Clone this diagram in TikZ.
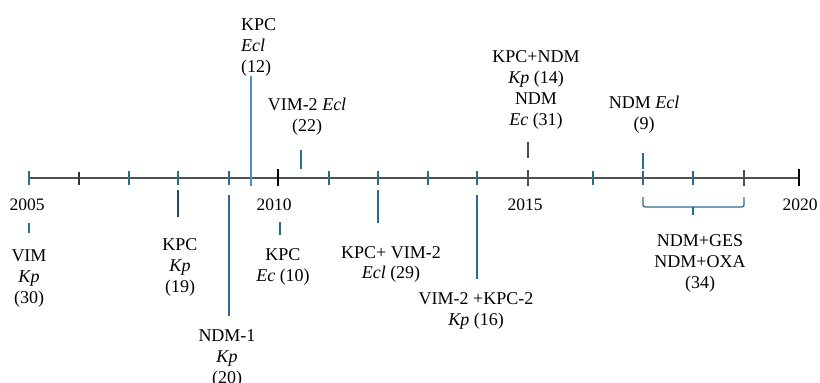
\documentclass[tikz,border=0pt]{standalone}
\usepackage{fontspec}
\setmainfont{Liberation Serif}
\definecolor{teal1}{HTML}{2C6A8C}
\definecolor{blue1}{HTML}{4A8EC6}
\definecolor{axisgray}{HTML}{4F4F4F}
\begin{document}
\begin{tikzpicture}[x=1pt,y=-1pt,
  lbl/.style={font=\fontsize{18}{21}\selectfont,inner sep=0pt,align=center,anchor=base},
  yr/.style={font=\fontsize{17.5}{21}\selectfont,inner sep=0pt,anchor=base},
  tk/.style={line width=1.3pt,teal1},
  tkb/.style={line width=1.3pt,black},
  conn/.style={line width=1.4pt,teal1},
  axis/.style={line width=1.6pt,axisgray}]
\useasboundingbox (0,0) rectangle (820,383);
% axis
\coordinate (a0) at (29,178);
\coordinate (a1) at (799,178);
\draw[axis] (a0) -- (a1);
% ticks
\foreach \x in {29,129,178,229,329,378,428,477,593,643,693}
  \draw[tk] (\x,171) -- (\x,185);
\foreach \x in {79}
  \draw[tk,black!80] (\x,172) -- (\x,185);
\foreach \x in {278,799}
  \draw[tkb] (\x,169) -- (\x,186);
\foreach \x in {528,744}
  \draw[tkb,axisgray] (\x,170) -- (\x,186);
% years
\node[yr] (y2005) at (27,210) {2005};
\node[yr] (y2010) at (274,210) {2010};
\node[yr] (y2015) at (525,210) {2015};
\node[yr] (y2020) at (800,210) {2020};
% labels above (anchored at the baseline of their last line)
\node[lbl,align=left,anchor=base west] (kpcecl) at (241,72) {KPC\\\textit{Ecl}\\(12)};
\node[lbl] (vim2ecl) at (307,131) {VIM-2 \textit{Ecl}\\(22)};
\node[lbl] (kpcndm) at (536,125) {KPC+NDM\\\textit{Kp} (14)\\NDM\\\textit{Ec} (31)};
\node[lbl] (ndmecl) at (644,129) {NDM \textit{Ecl}\\(9)};
% labels below
\node[lbl] (vimkp) at (29,303) {VIM\\\textit{Kp}\\(30)};
\node[lbl] (kpckp) at (180,292) {KPC\\\textit{Kp}\\(19)};
\node[lbl] (ndm1) at (227,383) {NDM-1\\\textit{Kp}\\(20)};
\node[lbl] (kpcec) at (283,281) {KPC\\\textit{Ec} (10)};
\node[lbl,font=\fontsize{18}{20}\selectfont] (kpcvim) at (391,278) {KPC+ VIM-2\\\textit{Ecl} (29)};
\node[lbl] (vimkpc) at (476,325) {VIM-2 +KPC-2\\\textit{Kp} (16)};
\node[lbl] (ndmges) at (700,288) {NDM+GES\\NDM+OXA\\(34)};
% connectors above
\coordinate (c1a) at (251,76);  \coordinate (c1b) at (251,186);
\draw[line width=1.4pt,blue1] (c1a) -- (c1b);
\coordinate (c2a) at (301,150); \coordinate (c2b) at (301,169);
\draw[conn] (c2a) -- (c2b);
\coordinate (c3a) at (528,142); \coordinate (c3b) at (528,158);
\draw[line width=1.6pt,axisgray] (c3a) -- (c3b);
\coordinate (c4a) at (643,153); \coordinate (c4b) at (643,169);
\draw[conn] (c4a) -- (c4b);
% connectors below
\coordinate (d1a) at (29,223);  \coordinate (d1b) at (29,233);
\draw[conn] (d1a) -- (d1b);
\coordinate (d2a) at (178,190); \coordinate (d2b) at (178,217);
\draw[conn,teal1!70!black] (d2a) -- (d2b);
\coordinate (d3a) at (229,195); \coordinate (d3b) at (229,316);
\draw[conn] (d3a) -- (d3b);
\coordinate (d4a) at (280,222); \coordinate (d4b) at (280,235);
\draw[conn] (d4a) -- (d4b);
\coordinate (d5a) at (378,190); \coordinate (d5b) at (378,223);
\draw[conn] (d5a) -- (d5b);
\coordinate (d6a) at (477,195); \coordinate (d6b) at (477,279);
\draw[conn] (d6a) -- (d6b);
% bracket
\coordinate (b1) at (643,197); \coordinate (b2) at (744,197);
\coordinate (bm) at (693,207); \coordinate (bt) at (693,215);
\draw[conn,line width=1.3pt,rounded corners=2pt] (b1) -- (643,207) -- (744,207) -- (b2);
\draw[conn,line width=1.3pt] (bm) -- (bt);
\end{tikzpicture}
\end{document}
